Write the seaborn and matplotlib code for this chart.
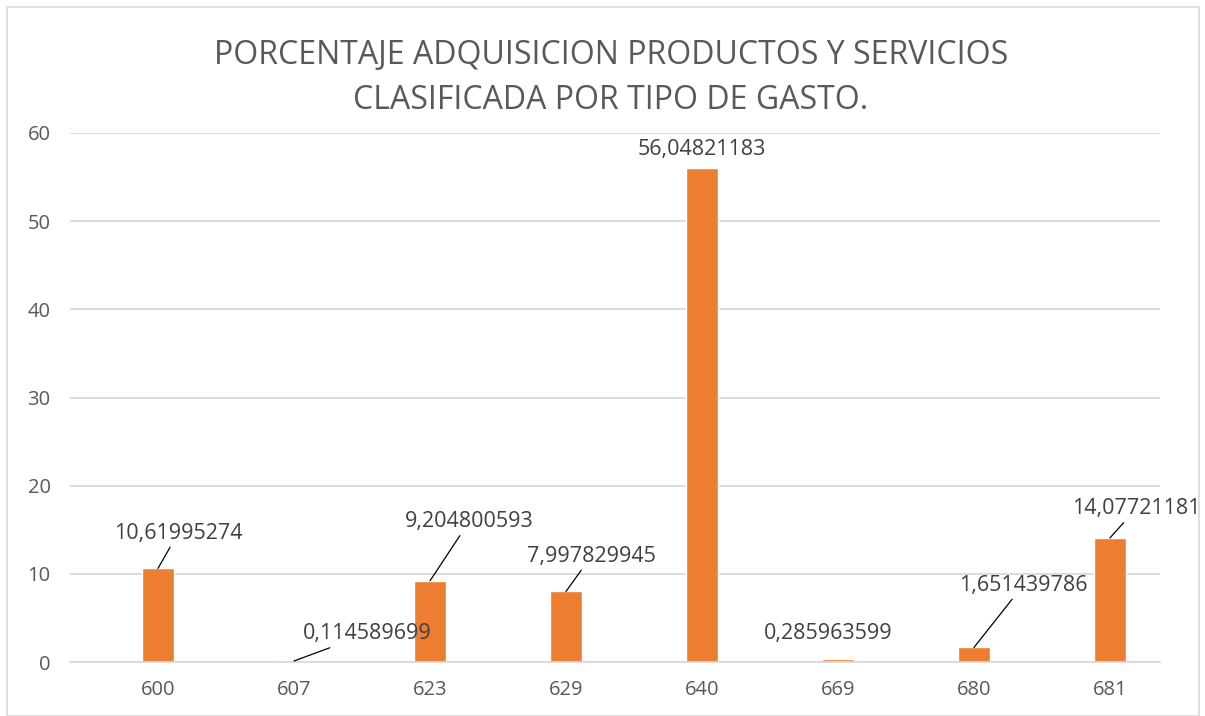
import numpy as np
import pandas as pd
import seaborn as sns
import matplotlib.pyplot as plt
from matplotlib.patches import Rectangle

# data
codes = ["600", "607", "623", "629", "640", "669", "680", "681"]
values = [10.61995274, 0.114589699, 9.204800593, 7.997829945,
          56.04821183, 0.285963599, 1.651439786, 14.07721181]
labels = ["10,61995274", "0,114589699", "9,204800593", "7,997829945",
          "56,04821183", "0,285963599", "1,651439786", "14,07721181"]

# label offsets in pixels (dx, dy) from bar top, and whether a leader line is drawn
label_offsets = [(20, 35), (73, 27), (39, 59), (25, 35), (0, 18), (-10, 26), (49, 62), (26, 29)]
has_line = [True, True, True, True, False, False, True, True]

df = pd.DataFrame({"code": codes, "value": values})

sns.set_style("white")
plt.rcParams["font.family"] = ["Open Sans", "DejaVu Sans"]

fig = plt.figure(figsize=(12.05, 7.16), dpi=100)
ax = fig.add_axes([70 / 1205, 1 - 662 / 716, 1090 / 1205, 529 / 716])

sns.barplot(data=df, x="code", y="value", order=codes, color="#ED7D31",
            width=0.23, saturation=1, ax=ax)

ax.set_ylim(0, 60)
ax.set_xlim(-88 / 136, 7 + 50 / 136)
ax.set_yticks(range(0, 61, 10))
ax.yaxis.grid(True, color="#d9d9d9", lw=1.3)
ax.set_axisbelow(True)
for s in ["top", "right", "left"]:
    ax.spines[s].set_visible(False)
ax.spines["bottom"].set_color("#d9d9d9")
ax.spines["bottom"].set_linewidth(1.3)
ax.tick_params(axis="both", length=0, labelsize=14.5, colors="#595959")
ax.tick_params(axis="x", pad=13)
ax.tick_params(axis="y", pad=14)
ax.set_xlabel("")
ax.set_ylabel("")

for i, (v, lab) in enumerate(zip(values, labels)):
    dx, dy = label_offsets[i]
    props = dict(arrowstyle="-", color="black", lw=0.9, shrinkA=0, shrinkB=0) if has_line[i] else None
    ax.annotate(lab, xy=(i, v), xytext=(dx * 0.72, dy * 0.72), textcoords="offset points",
                ha="center", va="center", fontsize=15.5, color="#404040",
                arrowprops=props)

fig.text(611 / 1205, 1 - 78 / 716,
         "PORCENTAJE ADQUISICION PRODUCTOS Y SERVICIOS\nCLASIFICADA POR TIPO DE GASTO.",
         ha="center", va="center", fontsize=23, color="#595959", linespacing=1.5)

fig.patches.append(Rectangle((7 / 1205, 0), 1192 / 1205, 1 - 7 / 716,
                             transform=fig.transFigure, fill=False,
                             edgecolor="#d9d9d9", lw=1.2))

fig.savefig("out.png", dpi=100)
